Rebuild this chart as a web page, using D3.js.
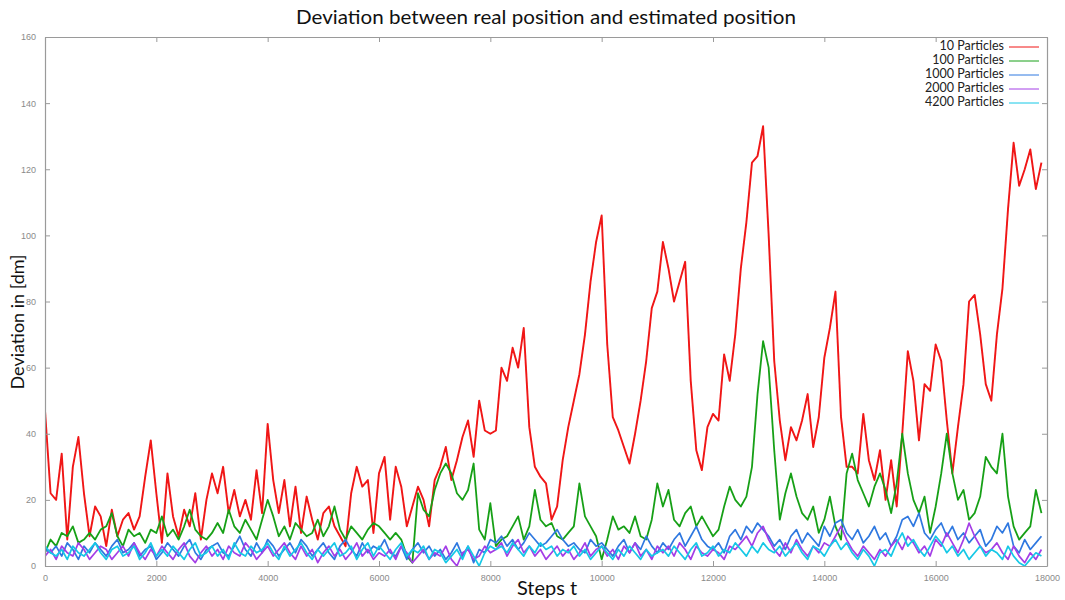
<!DOCTYPE html>
<html>
<head>
<meta charset="utf-8">
<script src="https://cdn.jsdelivr.net/npm/d3@7"></script>
<style>
  body { margin: 0; background: #fff; }
  svg { display: block; }
</style>
</head>
<body>
<svg id="chart" width="1065" height="600"></svg>
<script>
// Deviation samples, one value every STEP simulation steps (t = 0 .. 17900)
const STEP = 100;

const p10 = [
  47,22,20,34,8,30,39,22,9,18,
  15,6,17,9,14,16,11,15,27,38,
  22,7,28,15,9,17,12,22,8,20,
  28,22,30,16,23,15,20,14,29,16,
  43,26,16,26,12,24,10,21,14,8,
  16,18,12,9,6,22,30,24,26,10,
  28,33,14,30,24,12,18,24,20,12,
  26,30,36,26,32,39,44,33,50,41,
  40,41,60,56,66,60,72,42,30,27,
  25,14,18,32,42,50,58,70,86,98,
  106,67,45,41,36,31,40,50,62,78,
  83,98,90,80,86,92,56,35,29,42,
  46,44,64,56,70,90,104,122,124,133,
  100,62,44,32,42,38,44,52,36,45,
  63,72,83,45,30,30,28,46,32,26,
  35,20,32,18,40,65,56,38,55,53,
  67,62,44,28,42,55,80,82,70,55,
  50,70,84,108,128,115,120,126,114,122
];

const p100 = [
  4,8,6,10,9,12,7,8,10,8,
  11,12,16,9,6,11,9,10,7,11,
  10,15,9,11,8,12,17,11,9,8,
  10,13,10,17,12,10,14,11,8,14,
  20,15,9,12,8,13,11,9,10,14,
  9,12,18,11,8,12,10,8,11,13,
  12,10,8,10,8,3,1,22,17,15,
  23,28,31,28,22,20,23,31,11,8,
  19,6,8,9,12,15,8,12,23,14,
  12,13,9,8,10,12,25,15,12,9,
  2,8,15,11,12,10,15,9,8,14,
  25,18,23,14,12,16,18,12,15,12,
  9,11,18,24,20,18,21,30,52,68,
  60,35,14,22,28,21,16,14,18,10,
  14,21,12,8,28,34,26,22,18,24,
  28,23,16,25,40,28,20,16,21,10,
  18,28,40,28,20,23,14,16,21,33,
  30,28,40,21,12,8,10,12,23,16
];

const p1000 = [
  5,4,6,3,7,5,2,6,4,7,
  5,3,6,8,4,5,7,3,5,6,
  2,4,7,5,3,6,8,4,2,5,
  6,7,4,3,6,9,5,3,7,4,
  8,6,3,5,7,4,8,6,3,5,
  7,4,2,6,8,5,3,7,4,6,
  5,8,4,3,6,2,5,7,4,6,
  3,5,2,4,7,3,6,1,5,4,
  8,7,9,6,8,5,7,10,8,6,
  7,9,11,8,6,7,5,4,8,6,
  7,5,3,6,8,4,7,5,9,6,
  4,7,5,8,10,6,9,12,8,6,
  5,7,4,9,11,8,12,10,13,11,
  9,6,8,5,9,11,7,10,8,6,
  12,9,13,14,10,8,11,7,9,12,
  8,10,6,9,14,15,12,16,10,8,
  11,13,9,12,8,10,7,9,11,6,
  8,12,10,13,6,4,8,5,7,9
];

const p2000 = [
  3,5,2,6,4,3,7,5,2,4,
  6,5,2,4,6,3,7,4,2,5,
  3,6,4,2,5,7,3,1,4,6,
  3,5,2,6,4,3,7,5,2,4,
  6,3,5,7,4,2,6,3,5,1,
  4,6,3,5,2,4,7,3,5,2,
  4,3,5,2,6,4,1,3,5,2,
  4,3,6,2,0,4,5,2,3,6,
  4,5,7,3,6,8,4,6,3,5,
  2,4,6,3,5,2,4,7,3,5,
  6,3,5,2,6,4,7,3,5,2,
  6,4,6,3,7,5,2,6,4,3,
  5,4,2,6,5,7,9,6,10,12,
  8,5,3,7,4,8,5,3,6,4,
  7,6,9,12,8,5,3,6,4,2,
  5,3,6,8,5,9,7,4,6,3,
  8,6,10,7,4,8,13,9,6,4,
  5,7,4,2,6,3,1,4,2,5
];

const p4200 = [
  6,4,3,5,2,6,4,3,5,7,
  4,2,5,6,3,4,6,2,4,7,
  3,5,3,6,4,2,5,7,3,4,
  6,3,5,2,7,4,3,6,4,5,
  7,4,2,6,3,5,7,4,2,5,
  3,5,7,3,4,6,2,5,7,3,
  6,4,2,5,7,3,5,4,6,2,
  5,4,1,3,5,2,6,3,0,4,
  6,5,6,4,7,5,3,6,4,7,
  5,6,3,5,4,6,3,5,2,4,
  6,4,2,5,3,6,4,2,5,3,
  4,5,3,6,4,2,5,7,3,4,
  6,3,5,4,7,5,3,6,4,7,
  5,4,6,3,5,7,4,2,6,5,
  3,6,8,5,7,4,2,5,3,0,
  4,5,3,7,10,6,8,5,3,6,
  9,7,4,6,3,5,2,4,6,3,
  5,4,2,6,3,1,0,2,4,3
];

const seriesNames  = ["10 Particles", "100 Particles", "1000 Particles", "2000 Particles", "4200 Particles"];
const seriesValues = [p10, p100, p1000, p2000, p4200];
const seriesColors = ["#f01414", "#18a018", "#2f78e0", "#a43ee6", "#14c8e6"];
const seriesWidths = [1.9, 1.8, 1.7, 1.7, 1.7];

const xTicks = [0, 2000, 4000, 6000, 8000, 10000, 12000, 14000, 16000, 18000];
const yTicks = [0, 20, 40, 60, 80, 100, 120, 140, 160];

const titleText = "Deviation between real position and estimated position";
const xLabel = "Steps t";
const yLabel = "Deviation in [dm]";

// ---- layout ----
const svg = d3.select("#chart");
const plot = { left: 45, right: 1047, top: 37, bottom: 566 };

const x = d3.scaleLinear().domain([0, 18000]).range([plot.left, plot.right]);
const y = d3.scaleLinear().domain([0, 160]).range([plot.bottom, plot.top]);

const axisColor = "#9a9a9a";
const tickFont = "'Liberation Sans', Arial, sans-serif";
const textFont = "Lato, 'Open Sans', sans-serif";

const defs = svg.append("defs");
defs.append("clipPath").attr("id", "plotClip")
  .append("rect")
  .attr("x", plot.left).attr("y", plot.top)
  .attr("width", plot.right - plot.left).attr("height", plot.bottom - plot.top);
defs.append("filter").attr("id", "soft")
  .append("feGaussianBlur").attr("stdDeviation", 0.45);

// ---- series lines ----
const line = d3.line()
  .x((d, i) => x(i * STEP))
  .y(d => y(d));

const lines = svg.append("g").attr("clip-path", "url(#plotClip)");
const lineInner = lines.append("g").attr("filter", "url(#soft)");
seriesValues.forEach((vals, k) => {
  lineInner.append("path")
    .datum(vals)
    .attr("d", line)
    .attr("fill", "none")
    .attr("stroke", seriesColors[k])
    .attr("stroke-width", seriesWidths[k])
    .attr("stroke-linejoin", "round");
});

// ---- axes (gnuplot style: ticks inside, mirrored on all sides) ----
function styleAxis(g) {
  g.select(".domain").attr("stroke", axisColor).attr("stroke-width", 1.2);
  g.selectAll(".tick line").attr("stroke", axisColor);
  g.selectAll(".tick text")
    .attr("fill", "#8a8a8a")
    .style("font-family", tickFont)
    .style("font-size", "9px");
}

svg.append("g")
  .attr("transform", `translate(0,${plot.bottom})`)
  .call(d3.axisBottom(x).tickValues(xTicks).tickFormat(d3.format("d"))
    .tickSize(-5).tickSizeOuter(0).tickPadding(9))
  .call(styleAxis);

svg.append("g")
  .attr("transform", `translate(0,${plot.top})`)
  .call(d3.axisTop(x).tickValues(xTicks).tickSize(-5).tickSizeOuter(0).tickFormat(""))
  .call(styleAxis);

svg.append("g")
  .attr("transform", `translate(${plot.left},0)`)
  .call(d3.axisLeft(y).tickValues(yTicks).tickFormat(d3.format("d"))
    .tickSize(-5).tickSizeOuter(0).tickPadding(9))
  .call(styleAxis);

svg.append("g")
  .attr("transform", `translate(${plot.right},0)`)
  .call(d3.axisRight(y).tickValues(yTicks).tickSize(-5).tickSizeOuter(0).tickFormat(""))
  .call(styleAxis);

// ---- titles ----
svg.append("text")
  .attr("x", (plot.left + plot.right) / 2)
  .attr("y", 24)
  .attr("text-anchor", "middle")
  .attr("textLength", 500)
  .attr("lengthAdjust", "spacingAndGlyphs")
  .style("font-family", textFont)
  .style("font-size", "19px")
  .attr("fill", "#111")
  .text(titleText);

svg.append("text")
  .attr("x", 547)
  .attr("y", 595)
  .attr("text-anchor", "middle")
  .style("font-family", textFont)
  .style("font-size", "20px")
  .attr("fill", "#111")
  .text(xLabel);

svg.append("text")
  .attr("transform", "translate(24,322) rotate(-90)")
  .attr("text-anchor", "middle")
  .style("font-family", textFont)
  .style("font-size", "18px")
  .attr("fill", "#111")
  .text(yLabel);

// ---- legend ----
const legend = svg.append("g");
seriesNames.forEach((name, k) => {
  const ly = 46 + k * 14;
  legend.append("text")
    .attr("x", 1004)
    .attr("y", ly)
    .attr("dy", "0.35em")
    .attr("text-anchor", "end")
    .style("font-family", textFont)
    .style("font-size", "12.5px")
    .attr("fill", "#222")
    .text(name);
  legend.append("line")
    .attr("x1", 1009).attr("x2", 1039)
    .attr("y1", ly + 1).attr("y2", ly + 1)
    .attr("stroke", seriesColors[k])
    .attr("stroke-width", 1);
});
</script>
</body>
</html>
